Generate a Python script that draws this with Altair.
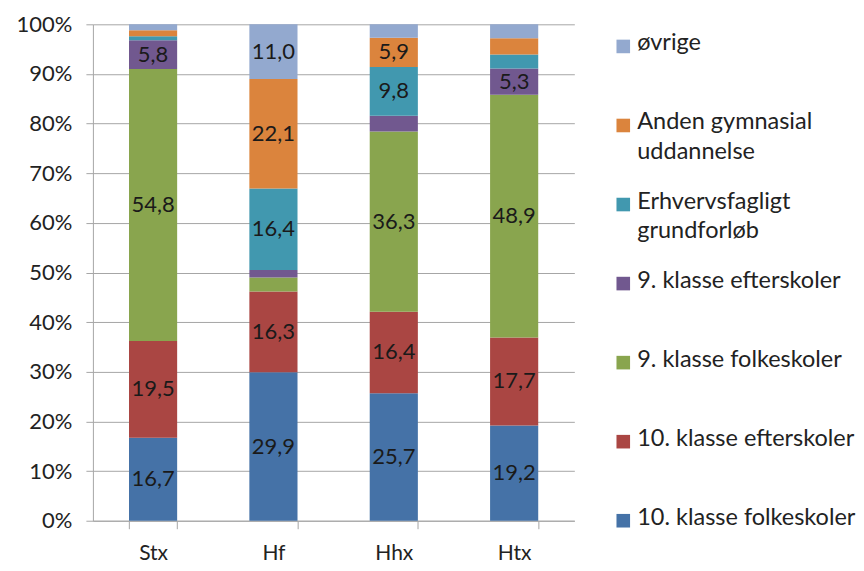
import altair as alt
import pandas as pd

categories = ["Stx", "Hf", "Hhx", "Htx"]
series = [
    "10. klasse folkeskoler",
    "10. klasse efterskoler",
    "9. klasse folkeskoler",
    "9. klasse efterskoler",
    "Erhvervsfagligt grundforløb",
    "Anden gymnasial uddannelse",
    "øvrige",
]
legend_labels = [
    "10. klasse folkeskoler",
    "10. klasse efterskoler",
    "9. klasse folkeskoler",
    "9. klasse efterskoler",
    "Erhvervsfagligt\ngrundforløb",
    "Anden gymnasial\nuddannelse",
    "øvrige",
]
colors = ["#4572A7", "#AA4643", "#89A54E", "#71588F", "#4198AF", "#DB843D", "#93A9CF"]

stx = [16.7, 19.5, 54.8, 5.8, 0.8, 1.2, 1.2]
hf = [29.9, 16.3, 2.8, 1.5, 16.4, 22.1, 11.0]
hhx = [25.7, 16.4, 36.3, 3.2, 9.8, 5.9, 2.7]
htx = [19.2, 17.7, 48.9, 5.3, 2.8, 3.3, 2.8]

values = {"Stx": stx, "Hf": hf, "Hhx": hhx, "Htx": htx}
rows = []
for c in categories:
    for i, s in enumerate(series):
        rows.append({"cat": c, "serie": s, "order": i, "v": values[c][i]})
df = pd.DataFrame(rows)

FONT = "Lato"
GRID = "#a6a6a6"

color_scale = alt.Scale(domain=series, range=colors)

base = alt.Chart(df).transform_stack(
    stack="v", groupby=["cat"], as_=["y0", "y1"], offset="normalize",
    sort=[alt.SortField("order", order="ascending")],
)

x_enc = alt.X(
    "cat:N", sort=categories, title=None,
    scale=alt.Scale(paddingInner=0.6, paddingOuter=0.3),
    axis=alt.Axis(
        labelAngle=0, labelFont=FONT, labelFontSize=21, labelColor="#222222",
        labelPadding=14, tickBand="extent", tickSize=8, tickColor=GRID,
        domainColor=GRID, grid=False,
    ),
)

bars = base.mark_bar().encode(
    x=x_enc,
    y=alt.Y(
        "y0:Q", title=None, scale=alt.Scale(domain=[0, 1], nice=False),
        axis=alt.Axis(
            values=[i / 10 for i in range(11)], format=".0%",
            labelFont=FONT, labelFontSize=22, labelColor="#222222",
            labelPadding=14, tickSize=7, tickColor=GRID, domainColor=GRID,
            gridColor=GRID, gridWidth=1,
        ),
    ),
    y2="y1:Q",
    color=alt.Color("serie:N", scale=color_scale, legend=None),
)

labels = base.transform_filter("datum.v >= 5").transform_calculate(
    mid="(datum.y0 + datum.y1) / 2",
    txt="replace(format(datum.v, '.1f'), '.', ',')",
).mark_text(font=FONT, fontSize=22, color="#1a1a1a", baseline="middle").encode(
    x=alt.X("cat:N", sort=categories),
    y=alt.Y("mid:Q"),
    text="txt:N",
)

main = alt.layer(bars, labels).properties(width=482, height=497)

leg_df = pd.DataFrame({
    "serie": series,
    "label": legend_labels,
    "idx": list(range(len(series))),
})

leg_base = alt.Chart(leg_df)
leg_y = alt.Y("idx:Q", scale=alt.Scale(domain=[0, 6.28], nice=False, zero=False), axis=None)
leg_sq = leg_base.mark_square(size=185, opacity=1).encode(
    x=alt.value(29),
    y=leg_y,
    color=alt.Color("serie:N", scale=color_scale, legend=None),
)
leg_txt = leg_base.mark_text(
    font=FONT, fontSize=23.5, color="#222222", align="left", baseline="top",
    lineBreak="\n", lineHeight=30, dy=-15,
).encode(
    x=alt.value(43),
    y=leg_y,
    text="label:N",
)
legend = alt.layer(leg_sq, leg_txt).properties(width=240, height=497)

chart = alt.hconcat(main, legend, spacing=20).properties(
    padding={"left": 8, "top": 5, "right": 0, "bottom": 0}
).configure_view(stroke=None)

chart.save("out.html", embed_options={"renderer": "svg", "actions": False})
